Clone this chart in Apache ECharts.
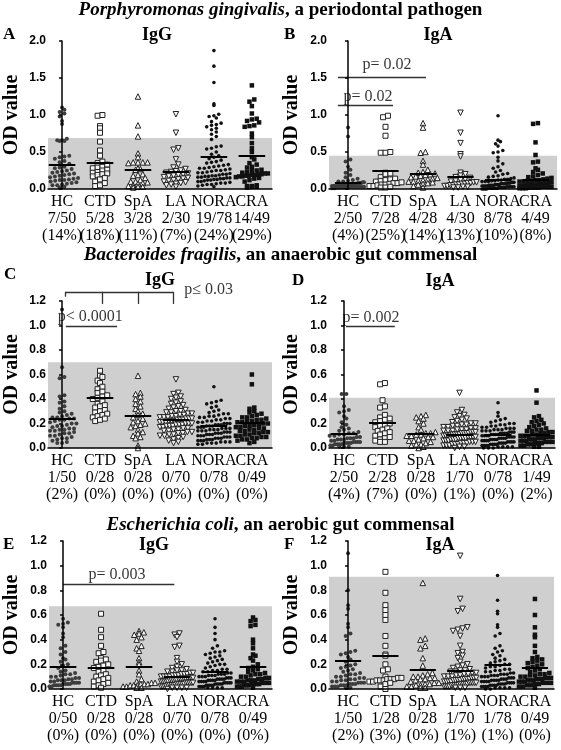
<!DOCTYPE html>
<html><head><meta charset="utf-8">
<script src="https://cdn.jsdelivr.net/npm/echarts@6/dist/echarts.min.js"></script>
<style>html,body{margin:0;padding:0;background:#fff}#c{width:561px;height:750px}</style>
</head><body><div id="c"></div>
<script>
const categories = ['HC','CTD','SpA','LA','NORA','CRA'];

// ---- Panel A: P. gingivalis IgG ----
const A_HC = [1.10,1.07,1.04,1.02,0.98,0.92,0.88,0.68,0.66,0.66,0.65,0.65,0.45,0.44,0.43,0.41,0.38,0.36,0.34,0.30,0.29,0.28,0.27,0.25,0.24,0.23,0.22,0.21,0.20,0.19,0.18,0.17,0.16,0.15,0.14,0.13,0.12,0.12,0.11,0.10,0.10,0.09,0.08,0.07,0.06,0.05,0.05,0.04,0.03,0.02];
const A_CTD = [1.00,0.99,0.85,0.82,0.76,0.64,0.52,0.45,0.37,0.35,0.33,0.30,0.29,0.28,0.26,0.25,0.23,0.22,0.21,0.20,0.19,0.17,0.15,0.13,0.10,0.08,0.05,0.04];
const A_SpA = [1.25,0.86,0.71,0.48,0.43,0.36,0.36,0.36,0.36,0.35,0.28,0.27,0.26,0.20,0.19,0.18,0.15,0.12,0.10,0.10,0.09,0.08,0.07,0.05,0.04,0.03,0.03,0.02];
const A_LA = [1.01,0.76,0.55,0.53,0.40,0.33,0.29,0.27,0.25,0.24,0.23,0.22,0.21,0.20,0.19,0.18,0.17,0.16,0.15,0.14,0.13,0.12,0.11,0.10,0.09,0.08,0.07,0.06,0.05,0.03];
const A_NORA = [1.87,1.66,1.44,1.15,1.13,1.01,0.99,0.98,0.96,0.91,0.89,0.87,0.86,0.84,0.82,0.80,0.77,0.74,0.71,0.67,0.58,0.57,0.55,0.54,0.50,0.47,0.45,0.43,0.41,0.39,0.37,0.36,0.35,0.33,0.32,0.31,0.30,0.29,0.28,0.28,0.27,0.26,0.25,0.25,0.24,0.23,0.22,0.22,0.21,0.20,0.20,0.19,0.18,0.18,0.17,0.17,0.16,0.16,0.15,0.15,0.14,0.14,0.13,0.13,0.12,0.12,0.11,0.10,0.10,0.09,0.08,0.08,0.07,0.06,0.06,0.05,0.04,0.03];
const A_CRA = [1.40,1.21,1.18,1.12,1.02,0.95,0.94,0.92,0.90,0.86,0.85,0.84,0.75,0.70,0.62,0.55,0.50,0.43,0.40,0.35,0.33,0.30,0.29,0.26,0.25,0.24,0.23,0.22,0.21,0.21,0.20,0.20,0.19,0.19,0.18,0.18,0.17,0.17,0.16,0.15,0.14,0.12,0.10,0.05,0.04,0.04,0.03,0.03,0.02];
const A_median = [0.33,0.35,0.26,0.23,0.44,0.45];
const A_cutoff = 0.69;
const A_pos = ['7/50','5/28','3/28','2/30','19/78','14/49'];
const A_pct = ['(14%)','(18%)','(11%)','(7%)','(24%)','(29%)'];

// ---- Panel B: P. gingivalis IgA ----
const B_HC = [0.83,0.71,0.40,0.37,0.30,0.26,0.22,0.19,0.16,0.14,0.12,0.11,0.10,0.10,0.09,0.09,0.08,0.08,0.08,0.07,0.07,0.07,0.06,0.06,0.06,0.06,0.05,0.05,0.05,0.05,0.05,0.04,0.04,0.04,0.04,0.04,0.04,0.03,0.03,0.03,0.03,0.03,0.03,0.02,0.02,0.02,0.02,0.02,0.01,0.01];
const B_CTD = [0.99,0.97,0.84,0.72,0.50,0.49,0.49,0.22,0.21,0.20,0.16,0.14,0.13,0.12,0.11,0.10,0.09,0.08,0.08,0.07,0.06,0.06,0.05,0.04,0.04,0.03,0.02,0.02];
const B_SpA = [0.89,0.83,0.50,0.49,0.38,0.33,0.26,0.23,0.22,0.21,0.20,0.19,0.18,0.17,0.16,0.15,0.14,0.13,0.12,0.11,0.10,0.10,0.09,0.08,0.07,0.06,0.04,0.02];
const B_LA = [1.03,0.76,0.62,0.47,0.44,0.22,0.20,0.18,0.16,0.15,0.13,0.12,0.11,0.10,0.09,0.09,0.08,0.08,0.07,0.07,0.06,0.06,0.05,0.05,0.04,0.04,0.03,0.03,0.02,0.02];
const B_NORA = [0.99,0.66,0.64,0.61,0.58,0.52,0.50,0.49,0.43,0.38,0.34,0.30,0.28,0.25,0.23,0.21,0.20,0.18,0.17,0.16,0.15,0.14,0.13,0.13,0.12,0.12,0.11,0.11,0.10,0.10,0.10,0.09,0.09,0.09,0.08,0.08,0.08,0.08,0.07,0.07,0.07,0.07,0.06,0.06,0.06,0.06,0.05,0.05,0.05,0.05,0.05,0.04,0.04,0.04,0.04,0.04,0.03,0.03,0.03,0.03,0.03,0.03,0.02,0.02,0.02,0.02,0.02,0.01,0.01,0.01,0.01,0.01,0.01,0.01,0.00,0.00,0.00,0.00];
const B_CRA = [0.89,0.88,0.63,0.46,0.37,0.36,0.28,0.26,0.23,0.21,0.19,0.17,0.16,0.15,0.14,0.13,0.12,0.12,0.11,0.11,0.10,0.10,0.09,0.09,0.08,0.08,0.07,0.07,0.07,0.06,0.06,0.06,0.05,0.05,0.05,0.04,0.04,0.04,0.03,0.03,0.03,0.03,0.02,0.02,0.02,0.02,0.01,0.01,0.01];
const B_median = [0.08,0.24,0.20,0.17,0.12,0.13];
const B_cutoff = 0.45;
const B_pos = ['2/50','7/28','4/28','4/30','8/78','4/49'];
const B_pct = ['(4%)','(25%)','(14%)','(13%)','(10%)','(8%)'];

// ---- Panel C: B. fragilis IgG ----
const C_HC = [1.13,0.66,0.58,0.57,0.43,0.42,0.38,0.37,0.34,0.32,0.30,0.29,0.28,0.27,0.26,0.25,0.25,0.24,0.24,0.23,0.23,0.22,0.21,0.20,0.20,0.19,0.18,0.18,0.17,0.17,0.16,0.16,0.15,0.15,0.14,0.14,0.13,0.12,0.12,0.11,0.10,0.10,0.09,0.08,0.08,0.07,0.06,0.05,0.04,0.04];
const C_CTD = [0.63,0.59,0.58,0.55,0.53,0.50,0.48,0.46,0.45,0.43,0.42,0.41,0.40,0.38,0.36,0.35,0.34,0.33,0.31,0.30,0.29,0.28,0.27,0.26,0.25,0.24,0.23,0.22];
const C_SpA = [0.59,0.45,0.44,0.42,0.40,0.38,0.36,0.34,0.32,0.30,0.28,0.27,0.25,0.24,0.22,0.21,0.20,0.19,0.18,0.17,0.15,0.13,0.12,0.10,0.09,0.08,0.02,0.00];
const C_LA = [0.56,0.45,0.44,0.42,0.41,0.40,0.38,0.37,0.36,0.35,0.34,0.33,0.32,0.31,0.30,0.30,0.29,0.29,0.28,0.28,0.27,0.27,0.26,0.26,0.25,0.25,0.25,0.24,0.24,0.24,0.23,0.23,0.23,0.22,0.22,0.22,0.21,0.21,0.21,0.20,0.20,0.20,0.19,0.19,0.19,0.18,0.18,0.18,0.17,0.17,0.16,0.16,0.15,0.15,0.14,0.14,0.13,0.13,0.12,0.12,0.11,0.11,0.10,0.10,0.09,0.08,0.07,0.06,0.05,0.04];
const C_NORA = [0.50,0.39,0.38,0.37,0.36,0.34,0.33,0.31,0.30,0.29,0.28,0.28,0.27,0.26,0.26,0.25,0.25,0.24,0.24,0.23,0.23,0.22,0.22,0.21,0.21,0.20,0.20,0.20,0.19,0.19,0.19,0.18,0.18,0.18,0.17,0.17,0.17,0.16,0.16,0.16,0.15,0.15,0.15,0.14,0.14,0.14,0.13,0.13,0.13,0.12,0.12,0.12,0.11,0.11,0.11,0.10,0.10,0.10,0.09,0.09,0.09,0.08,0.08,0.08,0.07,0.07,0.07,0.06,0.06,0.06,0.05,0.05,0.05,0.04,0.04,0.04,0.03,0.03];
const C_CRA = [0.60,0.52,0.33,0.32,0.30,0.29,0.28,0.27,0.26,0.25,0.25,0.24,0.23,0.23,0.22,0.22,0.21,0.21,0.20,0.20,0.19,0.19,0.18,0.18,0.17,0.17,0.16,0.16,0.15,0.15,0.14,0.14,0.13,0.13,0.12,0.12,0.11,0.11,0.10,0.10,0.09,0.09,0.08,0.08,0.07,0.07,0.06,0.05,0.04];
const C_median = [0.24,0.41,0.26,0.23,0.18,0.21];
const C_cutoff = 0.70;
const C_pos = ['1/50','0/28','0/28','0/70','0/78','0/49'];
const C_pct = ['(2%)','(0%)','(0%)','(0%)','(0%)','(0%)'];

// ---- Panel D: B. fragilis IgA ----
const D_HC = [0.44,0.44,0.34,0.31,0.30,0.29,0.26,0.24,0.21,0.19,0.17,0.16,0.15,0.14,0.13,0.12,0.12,0.11,0.11,0.10,0.10,0.09,0.09,0.08,0.08,0.08,0.07,0.07,0.07,0.06,0.06,0.06,0.05,0.05,0.05,0.05,0.04,0.04,0.04,0.04,0.03,0.03,0.03,0.03,0.02,0.02,0.02,0.01,0.01,0.01];
const D_CTD = [0.53,0.52,0.39,0.34,0.33,0.27,0.25,0.24,0.23,0.22,0.21,0.20,0.19,0.18,0.17,0.16,0.15,0.14,0.13,0.12,0.11,0.10,0.09,0.08,0.07,0.06,0.05,0.05];
const D_SpA = [0.27,0.26,0.25,0.24,0.22,0.20,0.17,0.15,0.13,0.12,0.12,0.11,0.11,0.10,0.10,0.09,0.09,0.08,0.07,0.06,0.06,0.05,0.04,0.03,0.03,0.02,0.01,0.00];
const D_LA = [0.45,0.31,0.29,0.27,0.26,0.25,0.24,0.23,0.22,0.21,0.20,0.20,0.19,0.19,0.18,0.18,0.17,0.17,0.16,0.16,0.15,0.15,0.15,0.14,0.14,0.14,0.13,0.13,0.13,0.12,0.12,0.12,0.12,0.11,0.11,0.11,0.11,0.10,0.10,0.10,0.10,0.09,0.09,0.09,0.09,0.08,0.08,0.08,0.08,0.07,0.07,0.07,0.06,0.06,0.06,0.05,0.05,0.05,0.04,0.04,0.04,0.03,0.03,0.03,0.02,0.02,0.02,0.01,0.01,0.00];
const D_NORA = [0.37,0.29,0.26,0.24,0.23,0.22,0.21,0.20,0.20,0.19,0.19,0.18,0.18,0.17,0.17,0.16,0.16,0.16,0.15,0.15,0.15,0.14,0.14,0.14,0.13,0.13,0.13,0.12,0.12,0.12,0.12,0.11,0.11,0.11,0.11,0.10,0.10,0.10,0.10,0.09,0.09,0.09,0.09,0.08,0.08,0.08,0.08,0.07,0.07,0.07,0.07,0.06,0.06,0.06,0.06,0.05,0.05,0.05,0.05,0.04,0.04,0.04,0.04,0.03,0.03,0.03,0.03,0.02,0.02,0.02,0.02,0.01,0.01,0.01,0.01,0.00,0.00,0.00];
const D_CRA = [0.47,0.37,0.26,0.25,0.23,0.22,0.21,0.20,0.19,0.18,0.17,0.16,0.15,0.15,0.14,0.14,0.13,0.13,0.12,0.12,0.11,0.11,0.10,0.10,0.10,0.09,0.09,0.09,0.08,0.08,0.08,0.07,0.07,0.07,0.06,0.06,0.06,0.05,0.05,0.05,0.04,0.04,0.04,0.03,0.03,0.02,0.02,0.01,0.01];
const D_median = [0.12,0.21,0.12,0.11,0.11,0.11];
const D_cutoff = 0.41;
const D_pos = ['2/50','2/28','0/28','1/70','0/78','1/49'];
const D_pct = ['(4%)','(7%)','(0%)','(1%)','(0%)','(2%)'];

// ---- Panel E: E. coli IgG ----
const E_HC = [0.57,0.54,0.53,0.52,0.50,0.45,0.42,0.35,0.33,0.30,0.28,0.25,0.24,0.22,0.20,0.19,0.17,0.15,0.14,0.13,0.12,0.12,0.11,0.10,0.10,0.09,0.09,0.08,0.08,0.07,0.07,0.07,0.06,0.06,0.06,0.05,0.05,0.05,0.05,0.04,0.04,0.04,0.04,0.03,0.03,0.03,0.03,0.02,0.02,0.02];
const E_CTD = [0.61,0.48,0.42,0.35,0.30,0.29,0.25,0.24,0.23,0.22,0.20,0.19,0.18,0.17,0.15,0.14,0.12,0.11,0.10,0.09,0.08,0.07,0.06,0.05,0.04,0.03,0.02,0.01];
const E_SpA = [0.47,0.46,0.45,0.44,0.42,0.40,0.35,0.33,0.31,0.25,0.22,0.20,0.15,0.12,0.08,0.06,0.05,0.05,0.04,0.04,0.04,0.03,0.03,0.03,0.02,0.02,0.01,0.01];
const E_LA = [0.45,0.44,0.42,0.35,0.34,0.25,0.22,0.20,0.18,0.17,0.16,0.15,0.15,0.14,0.14,0.13,0.13,0.12,0.12,0.12,0.11,0.11,0.11,0.10,0.10,0.10,0.10,0.09,0.09,0.09,0.09,0.08,0.08,0.08,0.08,0.08,0.07,0.07,0.07,0.07,0.07,0.06,0.06,0.06,0.06,0.06,0.05,0.05,0.05,0.05,0.05,0.04,0.04,0.04,0.04,0.04,0.03,0.03,0.03,0.03,0.03,0.02,0.02,0.02,0.02,0.01,0.01,0.01,0.01,0.00];
const E_NORA = [0.57,0.50,0.45,0.40,0.35,0.33,0.31,0.30,0.30,0.29,0.28,0.27,0.26,0.25,0.24,0.23,0.22,0.21,0.20,0.20,0.19,0.18,0.17,0.16,0.16,0.15,0.15,0.14,0.14,0.13,0.13,0.12,0.12,0.12,0.11,0.11,0.11,0.10,0.10,0.10,0.09,0.09,0.09,0.08,0.08,0.08,0.08,0.07,0.07,0.07,0.07,0.06,0.06,0.06,0.06,0.05,0.05,0.05,0.05,0.05,0.04,0.04,0.04,0.04,0.04,0.03,0.03,0.03,0.03,0.03,0.02,0.02,0.02,0.02,0.01,0.01,0.01,0.01];
const E_CRA = [0.58,0.56,0.55,0.52,0.51,0.40,0.37,0.33,0.28,0.27,0.25,0.23,0.20,0.18,0.17,0.16,0.15,0.14,0.13,0.12,0.12,0.11,0.10,0.10,0.09,0.09,0.08,0.08,0.07,0.07,0.07,0.06,0.06,0.06,0.05,0.05,0.05,0.05,0.04,0.04,0.04,0.04,0.03,0.03,0.03,0.02,0.02,0.02,0.01];
const E_median = [0.18,0.17,0.18,0.10,0.14,0.18];
const E_cutoff = 0.67;
const E_pos = ['0/50','0/28','0/28','0/70','0/78','0/49'];
const E_pct = ['(0%)','(0%)','(0%)','(0%)','(0%)','(0%)'];

// ---- Panel F: E. coli IgA ----
const F_HC = [1.10,0.80,0.68,0.65,0.53,0.50,0.45,0.43,0.31,0.30,0.29,0.28,0.26,0.24,0.22,0.20,0.19,0.18,0.17,0.16,0.15,0.14,0.13,0.12,0.12,0.11,0.10,0.10,0.09,0.09,0.08,0.08,0.07,0.07,0.06,0.06,0.05,0.05,0.05,0.04,0.04,0.04,0.03,0.03,0.03,0.02,0.02,0.02,0.01,0.01];
const F_CTD = [0.95,0.78,0.68,0.64,0.60,0.56,0.43,0.35,0.28,0.27,0.20,0.16,0.15,0.10,0.09,0.09,0.08,0.08,0.08,0.07,0.07,0.07,0.06,0.06,0.05,0.04,0.02,0.00];
const F_SpA = [0.86,0.41,0.40,0.35,0.33,0.25,0.19,0.13,0.12,0.11,0.10,0.10,0.09,0.09,0.08,0.08,0.07,0.06,0.05,0.05,0.04,0.04,0.03,0.03,0.02,0.02,0.01,0.01];
const F_LA = [1.08,0.73,0.65,0.63,0.50,0.49,0.48,0.47,0.43,0.35,0.30,0.29,0.27,0.25,0.22,0.20,0.19,0.18,0.17,0.16,0.15,0.15,0.14,0.14,0.13,0.13,0.12,0.12,0.11,0.11,0.10,0.10,0.10,0.09,0.09,0.09,0.08,0.08,0.08,0.08,0.07,0.07,0.07,0.07,0.06,0.06,0.06,0.06,0.05,0.05,0.05,0.05,0.05,0.04,0.04,0.04,0.04,0.04,0.03,0.03,0.03,0.03,0.03,0.02,0.02,0.02,0.02,0.01,0.01,0.01];
const F_NORA = [0.92,0.72,0.63,0.61,0.52,0.50,0.45,0.43,0.35,0.33,0.31,0.30,0.28,0.27,0.25,0.24,0.23,0.22,0.21,0.20,0.20,0.19,0.18,0.18,0.17,0.16,0.16,0.15,0.15,0.14,0.14,0.13,0.13,0.12,0.12,0.12,0.11,0.11,0.11,0.10,0.10,0.10,0.09,0.09,0.09,0.08,0.08,0.08,0.07,0.07,0.07,0.07,0.06,0.06,0.06,0.06,0.05,0.05,0.05,0.05,0.04,0.04,0.04,0.04,0.03,0.03,0.03,0.03,0.02,0.02,0.02,0.02,0.01,0.01,0.01,0.01,0.00,0.00];
const F_CRA = [0.73,0.60,0.50,0.44,0.42,0.35,0.30,0.26,0.25,0.24,0.23,0.22,0.21,0.20,0.19,0.18,0.17,0.16,0.15,0.14,0.13,0.12,0.12,0.11,0.11,0.10,0.10,0.09,0.09,0.09,0.08,0.08,0.08,0.07,0.07,0.07,0.06,0.06,0.06,0.05,0.05,0.05,0.04,0.04,0.03,0.03,0.02,0.02,0.01];
const F_median = [0.23,0.27,0.16,0.15,0.20,0.17];
const F_cutoff = 0.91;
const F_pos = ['1/50','1/28','0/28','1/70','1/78','0/49'];
const F_pct = ['(2%)','(3%)','(0%)','(1%)','(1%)','(0%)'];

// significance brackets: segments [x1, y1, x2, y2] in data units
const B_brackets = [[-0.27,1.51,2.08,1.51],[-0.27,1.13,1.20,1.13]];
const B_notes = [[1.04,1.68,'p= 0.02','center'],[0.53,1.25,'p= 0.02','center']];
const C_brackets = [[0.08,1.275,2.93,1.275],[0.08,1.275,0.08,1.235],[1.05,1.275,1.05,1.176],[2.0,1.275,2.0,1.176],[2.93,1.275,2.93,1.176],[0.1,0.99,1.45,0.99]];
const C_notes = [[3.22,1.29,'p\u2264 0.03','left'],[0.74,1.07,'p< 0.0001','center']];
const D_brackets = [[0.05,0.99,1.32,0.99]];
const D_notes = [[0.70,1.06,'p= 0.002','center']];
const E_brackets = [[0.0,0.85,2.93,0.85]];
const E_notes = [[1.42,0.925,'p= 0.003','center']];

const titles = [
  ['Porphyromonas gingivalis', ', a periodontal pathogen'],
  ['Bacteroides fragilis', ', an anaerobic gut commensal'],
  ['Escherichia coli', ', an aerobic gut commensal']
];

// ---------- layout (positions / styles) ----------
const SERIF = '"Liberation Serif","Times New Roman",serif';
const SANS = '"Liberation Sans",Arial,sans-serif';
const panels = [
  {letter:'A', sub:'IgG', groups:[A_HC,A_CTD,A_SpA,A_LA,A_NORA,A_CRA], med:A_median, cut:A_cutoff, pos:A_pos, pct:A_pct, br:[], notes:[],
   left:48, top:41, width:224, height:148, xmin:-0.37, xmax:5.53, ymax:2.0, yint:0.5, nameGap:26, letterXY:[3,26], subX:157, subY:26},
  {letter:'B', sub:'IgA', groups:[B_HC,B_CTD,B_SpA,B_LA,B_NORA,B_CRA], med:B_median, cut:B_cutoff, pos:B_pos, pct:B_pct, br:B_brackets, notes:B_notes,
   left:329, top:41, width:228, height:148, xmin:-0.507, xmax:5.573, ymax:2.0, yint:0.5, nameGap:27, letterXY:[284,26], subX:438, subY:26},
  {letter:'C', sub:'IgG', groups:[C_HC,C_CTD,C_SpA,C_LA,C_NORA,C_CRA], med:C_median, cut:C_cutoff, pos:C_pos, pct:C_pct, br:C_brackets, notes:C_notes,
   left:48, top:301, width:224, height:147, xmin:-0.37, xmax:5.53, ymax:1.2, yint:0.2, nameGap:26, letterXY:[4,266], subX:160, subY:271},
  {letter:'D', sub:'IgA', groups:[D_HC,D_CTD,D_SpA,D_LA,D_NORA,D_CRA], med:D_median, cut:D_cutoff, pos:D_pos, pct:D_pct, br:D_brackets, notes:D_notes,
   left:329, top:301, width:226, height:147, xmin:-0.39, xmax:5.48, ymax:1.2, yint:0.2, nameGap:27, letterXY:[292,272], subX:440, subY:272},
  {letter:'E', sub:'IgG', groups:[E_HC,E_CTD,E_SpA,E_LA,E_NORA,E_CRA], med:E_median, cut:E_cutoff, pos:E_pos, pct:E_pct, br:E_brackets, notes:E_notes,
   left:49, top:541, width:223, height:148, xmin:-0.37, xmax:5.5, ymax:1.2, yint:0.2, nameGap:27, letterXY:[3,536], subX:154, subY:536},
  {letter:'F', sub:'IgA', groups:[F_HC,F_CTD,F_SpA,F_LA,F_NORA,F_CRA], med:F_median, cut:F_cutoff, pos:F_pos, pct:F_pct, br:[], notes:[],
   left:329, top:541, width:225, height:148, xmin:-0.51, xmax:5.51, ymax:1.2, yint:0.2, nameGap:27, letterXY:[284,536], subX:440, subY:536}
];
const titleTops = [1, 246, 516];
const EXT = 40; // px of headroom for annotations above each plot

const OPEN = 'rgba(255,255,255,0.85)';
const groupStyle = [
  {symbol:'circle', size:4, color:'#3c3c3c', border:'#3c3c3c', bw:0},
  {symbol:'rect', size:5, color:OPEN, border:'#222', bw:1},
  {symbol:'triangle', size:5.5, color:OPEN, border:'#222', bw:1},
  {symbol:'path://M0,0 L10,0 L5,9 Z', size:5.5, color:OPEN, border:'#222', bw:1},
  {symbol:'circle', size:3.6, color:'#111', border:'#111', bw:0},
  {symbol:'rect', size:4.5, color:'#111', border:'#111', bw:0}
];

// beeswarm placement derived from the values
function swarm(values, ci, binV, dx, maxHalf) {
  const rows = new Map();
  values.forEach(v => { const k = Math.round(v / binV); if (!rows.has(k)) rows.set(k, []); rows.get(k).push(v); });
  const out = [];
  rows.forEach(r => {
    r.sort((a,b)=>a-b);
    const n = r.length;
    const step = n > 1 ? Math.min(dx, 2*maxHalf/(n-1)) : 0;
    r.forEach((v, j) => out.push([ci + (j - (n-1)/2)*step, v]));
  });
  return out;
}

const grids = [], xAxes = [], yAxes = [], series = [];
const N = panels.length;
panels.forEach((p, pi) => {
  grids.push({left:p.left, top:p.top, width:p.width, height:p.height, containLabel:false});
  const pxPerCat = p.width / (p.xmax - p.xmin);
  const pxPerVal = p.height / p.ymax;
  const binV = 4.6 / pxPerVal;
  const dx = 4.8 / pxPerCat;
  const maxHalf = 16 / pxPerCat;
  xAxes.push({
    gridIndex:pi, type:'value', min:p.xmin, max:p.xmax, z:10,
    axisLine:{show:true, onZero:false, lineStyle:{color:'#000', width:1.5}},
    axisTick:{show:false}, splitLine:{show:false}, axisLabel:{show:false}
  });
  yAxes.push({
    gridIndex:pi, type:'value', min:0, max:p.ymax, interval:p.yint, z:10,
    name:'OD value', nameLocation:'middle', nameGap:p.nameGap,
    nameTextStyle:{fontFamily:SERIF, fontWeight:'bold', fontSize:20, color:'#000'},
    axisLine:{show:true, lineStyle:{color:'#000', width:1.5}},
    axisTick:{show:true, length:3, lineStyle:{color:'#000', width:1.5}},
    splitLine:{show:false},
    axisLabel:{formatter:(v)=>v.toFixed(1), fontFamily:SANS, fontWeight:'bold', fontSize:12, color:'#000', margin:2}
  });
  // gray cutoff band
  series.push({
    type:'scatter', xAxisIndex:pi, yAxisIndex:pi, data:[], z:1, silent:true,
    markArea:{silent:true, itemStyle:{color:'#cfcfcf'}, data:[[{coord:[p.xmin,0]},{coord:[p.xmax,p.cut]}]]}
  });
  // groups
  p.groups.forEach((vals, gi) => {
    const st = groupStyle[gi];
    series.push({
      type:'scatter', xAxisIndex:pi, yAxisIndex:pi, z:3, silent:true,
      symbol:st.symbol, symbolSize:st.size,
      itemStyle:{color:st.color, borderColor:st.border, borderWidth:st.bw, opacity:1},
      data: swarm(vals, gi, binV, dx, maxHalf)
    });
  });
  // medians
  const medLines = p.med.map((m, gi) => [{coord:[gi-0.35, m]},{coord:[gi+0.35, m]}]);
  series.push({
    type:'scatter', xAxisIndex:pi, yAxisIndex:pi, data:[], z:5, silent:true,
    markLine:{silent:true, symbol:['none','none'], label:{show:false}, animation:false,
      lineStyle:{color:'#000', width:2, type:'solid'}, data:medLines}
  });
});

// annotation layers: same x scale, same y scale, extra headroom above each plot
panels.forEach((p, pi) => {
  const gi = N + pi;
  grids.push({left:p.left, top:p.top-EXT, width:p.width, height:p.height+EXT, containLabel:false});
  xAxes.push({gridIndex:gi, type:'value', min:p.xmin, max:p.xmax, show:false});
  yAxes.push({gridIndex:gi, type:'value', min:0, max:p.ymax*(p.height+EXT)/p.height, show:false});
  if (p.br.length) {
    series.push({
      type:'scatter', xAxisIndex:gi, yAxisIndex:gi, data:[], z:5, silent:true,
      markLine:{silent:true, symbol:['none','none'], label:{show:false}, animation:false,
        lineStyle:{color:'#333', width:1.3, type:'solid'},
        data:p.br.map(b => [{coord:[b[0],b[1]]},{coord:[b[2],b[3]]}])}
    });
  }
  if (p.notes.length) {
    series.push({
      type:'scatter', xAxisIndex:gi, yAxisIndex:gi, z:6, silent:true, symbolSize:0,
      data:p.notes.map(n => ({value:[n[0],n[1]], label:{show:true, formatter:n[2],
        position: n[3]==='left' ? 'right' : 'inside', distance:0,
        fontFamily:SERIF, fontSize:16, color:'#000'}}))
    });
  }
});

// category label layers: a category axis whose band centres coincide with x = 0..5 of the value scale
panels.forEach((p, pi) => {
  const gi = 2*N + pi;
  const pxPerCat = p.width / (p.xmax - p.xmin);
  grids.push({left:p.left + (-0.5 - p.xmin)*pxPerCat, top:p.top, width:6*pxPerCat, height:p.height, containLabel:false});
  xAxes.push({gridIndex:gi, type:'category', data:categories, boundaryGap:true,
    axisLine:{show:false}, axisTick:{show:false}, splitLine:{show:false},
    axisLabel:{show:true, interval:0, margin:4, hideOverlap:false,
      formatter:(v, i)=>v+'\n'+p.pos[i]+'\n'+p.pct[i],
      fontFamily:SERIF, fontSize:16, lineHeight:17, color:'#000'}});
  yAxes.push({gridIndex:gi, type:'value', min:0, max:1, show:false});
});

const titleComps = [];
titles.forEach((t, i) => {
  titleComps.push({
    text:'{i|'+t[0]+'}{n|'+t[1]+'}', left:'center', top:titleTops[i], padding:0,
    textStyle:{rich:{
      i:{fontFamily:SERIF, fontWeight:'bold', fontStyle:'italic', fontSize:19, color:'#000'},
      n:{fontFamily:SERIF, fontWeight:'bold', fontSize:19, color:'#000'}}}
  });
});
panels.forEach(p => {
  titleComps.push({text:p.letter, left:p.letterXY[0], top:p.letterXY[1], padding:0,
    textStyle:{fontFamily:SERIF, fontWeight:'bold', fontSize:17, color:'#000'}});
  titleComps.push({text:p.sub, left:p.subX, top:p.subY, padding:0, textAlign:'center',
    textStyle:{fontFamily:SERIF, fontWeight:'bold', fontSize:18, color:'#000'}});
});

const chart = echarts.init(document.getElementById('c'), null, {renderer:'canvas'});
chart.setOption({
  animation:false, backgroundColor:'#fff',
  title:titleComps, grid:grids, xAxis:xAxes, yAxis:yAxes, series:series
});
</script>
</body></html>
